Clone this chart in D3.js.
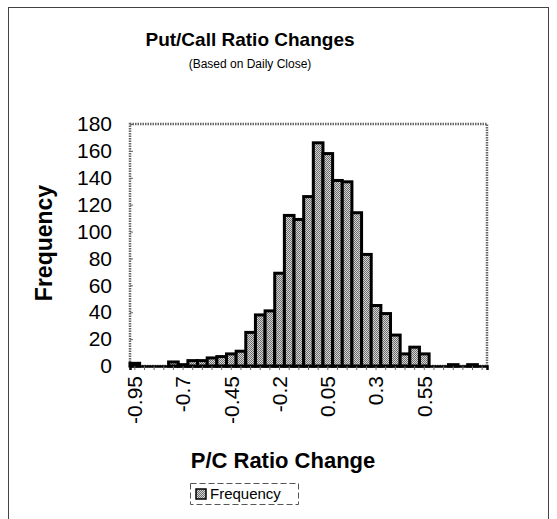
<!DOCTYPE html>
<html lang="en">
<head>
    <meta charset="UTF-8"/>
    <title>Put/Call Ratio Changes</title>
    <script src="https://d3js.org/d3.v7.min.js"></script>
    <style>
        body { margin: 0; background: #fff; }
        text { font-family: "Liberation Sans", Arial, sans-serif; fill: #000; }
    </style>
</head>
<body>
    <script>
        var w = 557;
        var h = 519;

        // bin centres (P/C ratio change)
        var categories = [
            "-0.95", "-0.9", "-0.85", "-0.8", "-0.75", "-0.7", "-0.65", "-0.6", "-0.55", "-0.5",
            "-0.45", "-0.4", "-0.35", "-0.3", "-0.25", "-0.2", "-0.15", "-0.1", "-0.05", "0",
            "0.05", "0.1", "0.15", "0.2", "0.25", "0.3", "0.35", "0.4", "0.45", "0.5",
            "0.55", "0.6", "0.65", "0.7", "0.75", "0.8", "0.85"
        ];
        // frequency per bin
        var frequency = [
            2, 0, 0, 0, 3, 1, 4, 4, 6, 7,
            9, 11, 25, 38, 41, 69, 112, 109, 126, 166,
            158, 138, 137, 114, 83, 45, 39, 23, 9, 14,
            9, 0, 0, 1, 0, 1, 0
        ];
        var xTickLabels = ["-0.95", "-0.7", "-0.45", "-0.2", "0.05", "0.3", "0.55"];
        var yTicks = [0, 20, 40, 60, 80, 100, 120, 140, 160, 180];

        // plot area box (note: "top" is reserved on window, so use other names)
        var plotLeft = 130, plotRight = 487, plotTop = 124, plotBottom = 366;

        var svg = d3.select("body")
            .append("svg")
            .attr("width", w)
            .attr("height", h);

        // dotted grey fill like the original print
        var defs = svg.append("defs");
        var pat = defs.append("pattern")
            .attr("id", "dots")
            .attr("width", 2)
            .attr("height", 2)
            .attr("patternUnits", "userSpaceOnUse");
        pat.append("rect").attr("width", 2).attr("height", 2).attr("fill", "#d4d4d4");
        pat.append("rect").attr("width", 1).attr("height", 1).attr("fill", "#6e6e6e");
        pat.append("rect").attr("x", 1).attr("y", 1).attr("width", 1).attr("height", 1).attr("fill", "#6e6e6e");

        // outer chart frame
        svg.append("rect")
            .attr("x", 8.5).attr("y", 7.5)
            .attr("width", 540).attr("height", 520)
            .attr("fill", "none")
            .attr("stroke", "#444")
            .attr("stroke-width", 1);

        var xScale = d3.scaleBand().domain(categories).range([plotLeft, plotRight]).padding(0);
        var yScale = d3.scaleLinear().domain([0, 180]).range([plotBottom, plotTop]);

        // plot area border
        svg.append("rect")
            .attr("x", plotLeft).attr("y", plotTop)
            .attr("width", plotRight - plotLeft).attr("height", plotBottom - plotTop)
            .attr("fill", "none")
            .attr("stroke", "#666")
            .attr("stroke-width", 2.5)
            .attr("stroke-dasharray", "1.5,1");

        // bars
        svg.selectAll(".bar")
            .data(frequency)
            .enter().append("rect")
            .attr("class", "bar")
            .attr("x", function(d, i) { return xScale(categories[i]); })
            .attr("width", xScale.bandwidth())
            .attr("y", function(d) { return yScale(d); })
            .attr("height", function(d) { return plotBottom - yScale(d); })
            .attr("fill", "url(#dots)")
            .attr("stroke", "#000")
            .attr("stroke-width", 3);

        // y axis
        var yAxis = svg.append("g")
            .attr("transform", "translate(" + plotLeft + ",0)")
            .call(d3.axisLeft(yScale).tickValues(yTicks).tickSize(-3).tickPadding(18));
        yAxis.select(".domain").remove();
        yAxis.selectAll("line").attr("stroke", "#666");
        yAxis.selectAll("text")
            .style("font-size", "21px")
            .style("font-family", "Liberation Sans, Arial, sans-serif");

        // x axis
        var xAxis = svg.append("g")
            .attr("transform", "translate(0," + plotBottom + ")")
            .call(d3.axisBottom(xScale)
                .tickSize(4)
                .tickFormat(function(d) { return xTickLabels.indexOf(d) >= 0 ? d : ""; }));
        xAxis.select(".domain").attr("stroke", "#000").attr("stroke-width", 2.5);
        xAxis.selectAll("line").attr("stroke", "#666");
        xAxis.selectAll("text")
            .style("font-size", "21px")
            .style("font-family", "Liberation Sans, Arial, sans-serif")
            .attr("text-anchor", "end")
            .attr("transform", "rotate(-90)")
            .attr("x", -10)
            .attr("y", 0)
            .attr("dy", "0.35em");

        // titles
        svg.append("text")
            .attr("x", 250).attr("y", 46)
            .attr("text-anchor", "middle")
            .style("font-size", "19px")
            .style("font-weight", "bold")
            .text("Put/Call Ratio Changes");

        svg.append("text")
            .attr("x", 250).attr("y", 68)
            .attr("text-anchor", "middle")
            .style("font-size", "12px")
            .text("(Based on Daily Close)");

        svg.append("text")
            .attr("transform", "translate(52,243) rotate(-90)")
            .attr("text-anchor", "middle")
            .style("font-size", "23px")
            .style("font-weight", "bold")
            .text("Frequency");

        svg.append("text")
            .attr("x", 283).attr("y", 468)
            .attr("text-anchor", "middle")
            .style("font-size", "22px")
            .style("font-weight", "bold")
            .text("P/C Ratio Change");

        // legend
        var legend = svg.append("g").attr("transform", "translate(190,483)");
        legend.append("rect")
            .attr("x", 0.5).attr("y", 0.5)
            .attr("width", 108).attr("height", 21)
            .attr("fill", "none")
            .attr("stroke", "#555")
            .attr("stroke-dasharray", "6,3");
        legend.append("rect")
            .attr("x", 6).attr("y", 6)
            .attr("width", 10).attr("height", 10)
            .attr("fill", "url(#dots)")
            .attr("stroke", "#000")
            .attr("stroke-width", 1.5);
        legend.append("text")
            .attr("x", 20).attr("y", 16)
            .style("font-size", "15px")
            .text("Frequency");
    </script>
</body>
</html>
